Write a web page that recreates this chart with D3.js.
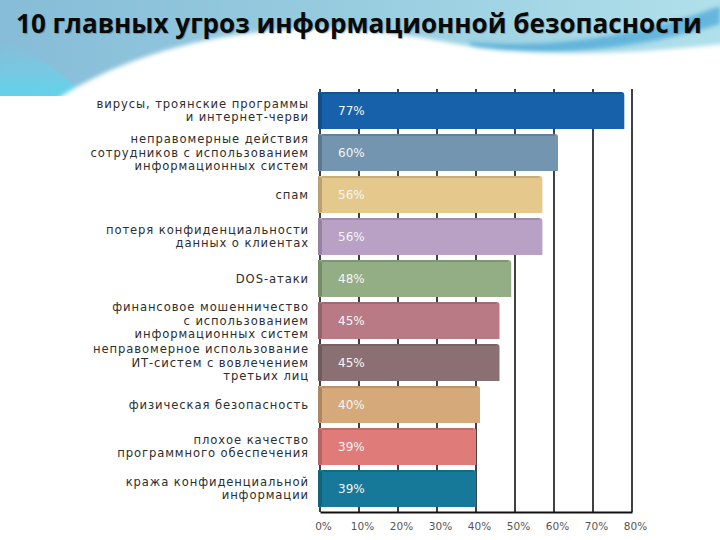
<!DOCTYPE html>
<html>
<head>
<meta charset="utf-8">
<script src="https://cdn.jsdelivr.net/npm/d3@7"></script>
<style>
  body { margin: 0; background: #fff; }
  svg { display: block; }
</style>
</head>
<body>
<div id="chart"></div>
<script>
// data
var title = "10 главных угроз информационной безопасности";

var categories = [
    "вирусы, троянские программы\nи интернет-черви",
    "неправомерные действия\nсотрудников с использованием\nинформационных систем",
    "спам",
    "потеря конфиденциальности\nданных о клиентах",
    "DOS-атаки",
    "финансовое мошенничество\nс использованием\nинформационных систем",
    "неправомерное использование\nИТ-систем с вовлечением\nтретьих лиц",
    "физическая безопасность",
    "плохое качество\nпрограммного обеспечения",
    "кража конфиденциальной\nинформации"
];

var values = [77, 60, 56, 56, 48, 45, 45, 40, 39, 39];

var barColors = ["#1661aa", "#7395b0", "#e5c98c", "#b9a1c6", "#93ad85",
                 "#b97a86", "#8a7073", "#d5a979", "#df7c7a", "#16799a"];

var tickValues = [0, 10, 20, 30, 40, 50, 60, 70, 80];

function init(){

    var w = 720;
    var h = 540;

    var svg = d3.select("#chart")
        .append("svg")
        .attr("width", w)
        .attr("height", h);

    var defs = svg.append("defs");

    var bgGrad = defs.append("linearGradient")
        .attr("id", "bgGrad")
        .attr("x1", "0").attr("y1", "0").attr("x2", "1").attr("y2", "0");
    bgGrad.append("stop").attr("offset", "0").attr("stop-color", "#86bcd7");
    bgGrad.append("stop").attr("offset", "0.5").attr("stop-color", "#98cde0");
    bgGrad.append("stop").attr("offset", "1").attr("stop-color", "#b0e0ea");

    var cornerGrad = defs.append("linearGradient")
        .attr("id", "cornerGrad")
        .attr("x1", "0").attr("y1", "0").attr("x2", "0").attr("y2", "1");
    cornerGrad.append("stop").attr("offset", "0").attr("stop-color", "#6fd2ea").attr("stop-opacity", 0);
    cornerGrad.append("stop").attr("offset", "1").attr("stop-color", "#5ed4ee").attr("stop-opacity", 1);

    var soft = defs.append("filter").attr("id", "soft")
        .attr("x", "-5%").attr("y", "-20%").attr("width", "110%").attr("height", "140%");
    soft.append("feGaussianBlur").attr("stdDeviation", 2);

    // header background waves
    svg.append("rect")
        .attr("x", 0).attr("y", 0)
        .attr("width", w).attr("height", 100)
        .attr("fill", "url(#bgGrad)");

    svg.append("path")
        .attr("d", "M0,40 C30,50 60,70 90,100 L0,100 Z")
        .attr("fill", "url(#cornerGrad)");

    svg.append("path")
        .attr("d", "M470,42 C560,50 650,32 720,6 L720,24 C650,46 560,58 470,50 Z")
        .attr("fill", "#4ea9d8")
        .attr("opacity", 0.75)
        .attr("filter", "url(#soft)");

    svg.append("path")
        .attr("d", "M50,104 C95,72 170,40 270,31 C360,24 420,38 480,48 C560,58 650,52 724,44 L724,104 Z")
        .attr("fill", "#fff")
        .attr("filter", "url(#soft)");

    svg.append("rect")
        .attr("x", 0).attr("y", 96)
        .attr("width", w).attr("height", h - 96)
        .attr("fill", "#fff");

    // title: size it so it spans the same width as the reference
    var titleFont = "'Open Sans', 'Noto Sans', sans-serif";
    var shadow = svg.append("text")
        .attr("x", 17).attr("y", 34)
        .attr("font-family", titleFont)
        .attr("font-weight", "bold")
        .attr("font-size", 27)
        .attr("fill", "rgba(0,0,0,0.22)")
        .text(title);
    var titleText = svg.append("text")
        .attr("x", 16).attr("y", 33)
        .attr("font-family", titleFont)
        .attr("font-weight", "bold")
        .attr("font-size", 27)
        .attr("fill", "#0a0a0a")
        .text(title);
    var tw = titleText.node().getComputedTextLength();
    var fs = 27 * 686 / tw;
    titleText.attr("font-size", fs);
    shadow.attr("font-size", fs);

    // scales
    var x = d3.scaleLinear()
        .domain([0, 80])
        .range([320, 632]);

    var y = d3.scaleBand()
        .domain(d3.range(categories.length))
        .range([89.5, 509.5])
        .paddingInner(0.12)
        .paddingOuter(0.06);

    // grid lines
    svg.selectAll("line.grid")
        .data(tickValues)
        .enter()
        .append("line")
        .attr("class", "grid")
        .attr("x1", d => x(d))
        .attr("x2", d => x(d))
        .attr("y1", 89)
        .attr("y2", 512)
        .attr("stroke", "#111")
        .attr("stroke-width", 1.6);

    // x axis
    var xAxis = d3.axisBottom(x)
        .tickValues(tickValues)
        .tickSize(0)
        .tickPadding(11)
        .tickFormat(d => d + "%");

    var ax = svg.append("g")
        .attr("transform", "translate(0,512)")
        .call(xAxis);
    ax.select(".domain")
        .attr("stroke", "#111")
        .attr("stroke-width", 2.2);
    ax.selectAll("text")
        .attr("font-family", "'DejaVu Sans', sans-serif")
        .attr("font-size", 10.5)
        .attr("fill", "#555")
        .attr("dx", 3);

    // bars
    var bars = svg.selectAll("g.bar")
        .data(values)
        .enter()
        .append("g")
        .attr("class", "bar");

    bars.append("path")
        .attr("d", function(d, i){
            var x0 = x(0) - 2, x1 = x(d) + 4;
            var y0 = y(i), y1 = y(i) + y.bandwidth();
            return "M" + x0 + "," + y0 + " L" + (x1 - 3) + "," + y0 +
                " Q" + x1 + "," + y0 + " " + x1 + "," + (y0 + 3) +
                " L" + x1 + "," + y1 + " L" + x0 + "," + y1 + " Z";
        })
        .attr("fill", (d, i) => barColors[i]);

    // darker left side face
    bars.append("path")
        .attr("d", function(d, i){
            var x0 = x(0) - 2;
            var y0 = y(i), y1 = y(i) + y.bandwidth();
            return "M" + x0 + "," + y0 + " L" + (x0 + 4) + "," + (y0 + 2) +
                " L" + (x0 + 4) + "," + (y1 - 1) + " L" + x0 + "," + y1 + " Z";
        })
        .attr("fill", (d, i) => d3.color(barColors[i]).darker(0.6));

    // top edge
    bars.append("line")
        .attr("x1", x(0) + 2)
        .attr("x2", d => x(d) + 1)
        .attr("y1", (d, i) => y(i) + 1)
        .attr("y2", (d, i) => y(i) + 1)
        .attr("stroke", (d, i) => d3.color(barColors[i]).darker(0.4))
        .attr("stroke-width", 2);

    // value labels
    bars.append("text")
        .attr("x", 338)
        .attr("y", (d, i) => y(i) + y.bandwidth() / 2)
        .attr("dy", "0.36em")
        .attr("font-family", "'DejaVu Sans', sans-serif")
        .attr("font-size", 12)
        .attr("fill", "#f6f6f6")
        .text(d => d + "%");

    // category labels
    var lineH = 13.5;
    svg.selectAll("text.cat")
        .data(categories)
        .enter()
        .append("text")
        .attr("class", "cat")
        .attr("text-anchor", "end")
        .attr("font-family", "'DejaVu Sans', sans-serif")
        .attr("font-size", 11.6)
        .attr("letter-spacing", 0.9)
        .attr("fill", "#2e2e2e")
        .each(function(d, i){
            var lines = d.split("\n");
            var cy = y(i) + y.bandwidth() / 2;
            var top = cy - (lines.length - 1) * lineH / 2;
            var t = d3.select(this);
            lines.forEach(function(l, k){
                t.append("tspan")
                    .attr("x", 309)
                    .attr("y", top + k * lineH)
                    .attr("dy", "0.36em")
                    .text(l);
            });
        });
}
window.onload = init;
</script>
</body>
</html>
